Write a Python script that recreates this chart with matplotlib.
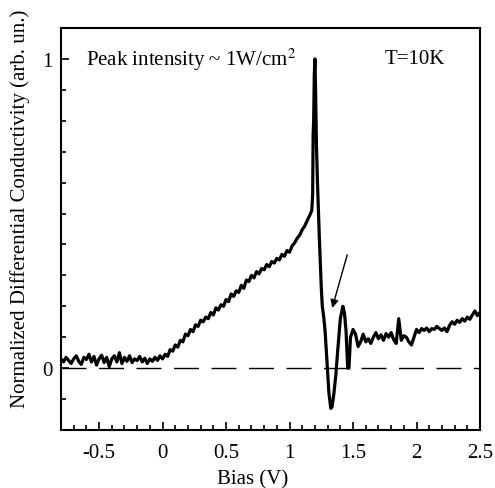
import numpy as np
import matplotlib as mpl
from matplotlib import pyplot as plt

mpl.rcParams['font.family'] = ['Liberation Serif', 'DejaVu Serif']
mpl.rcParams['mathtext.fontset'] = 'stix'
mpl.rcParams['axes.unicode_minus'] = False

# rising part, -0.80 .. 1.16 V in 0.02 V steps
cond_rise = [
    0.030, 0.020, 0.035, 0.025, 0.015, 0.030, 0.040, 0.022, 0.012, 0.035,
    0.028, 0.045, 0.020, 0.038, 0.010, 0.030, 0.042, 0.018, 0.035, 0.005,
    0.030, 0.040, 0.020, 0.050, 0.015, 0.035, 0.022, 0.040, 0.018, 0.030,
    0.025, 0.038, 0.020, 0.032, 0.015, 0.030, 0.022, 0.035, 0.025, 0.040,
    0.030, 0.045, 0.038, 0.060, 0.055, 0.075, 0.068, 0.090, 0.085, 0.110,
    0.105, 0.125, 0.118, 0.140, 0.135, 0.155, 0.150, 0.165, 0.160, 0.180,
    0.172, 0.195, 0.188, 0.205, 0.200, 0.222, 0.215, 0.240, 0.232, 0.250,
    0.245, 0.268, 0.258, 0.285, 0.280, 0.300, 0.292, 0.312, 0.305, 0.322,
    0.318, 0.335, 0.328, 0.345, 0.340, 0.355, 0.350, 0.368, 0.362, 0.380,
    0.375, 0.395, 0.405, 0.420, 0.430, 0.448, 0.460, 0.478, 0.495,
]
bias_rise = np.linspace(-0.80, 1.16, len(cond_rise))

# peak and dip
bias_peak = [1.175, 1.182, 1.186, 1.190, 1.195, 1.200, 1.205, 1.212, 1.220,
             1.235, 1.250, 1.258, 1.268, 1.280, 1.295, 1.310, 1.325, 1.335,
             1.350, 1.365, 1.380, 1.400, 1.420, 1.432, 1.445, 1.458, 1.468,
             1.480]
cond_peak = [0.510, 0.560, 0.760, 0.800, 0.950, 1.000, 0.900, 0.720, 0.600,
             0.420, 0.260, 0.200, 0.170, 0.120, 0.020, -0.080, -0.130, -0.125,
             -0.080, -0.020, 0.060, 0.160, 0.200, 0.180, 0.120, 0.000, 0.000,
             0.100]

# tail, 1.50 .. 2.50 V in 0.02 V steps
cond_tail = [
    0.125, 0.110, 0.070, 0.085, 0.110, 0.085, 0.095, 0.080, 0.100, 0.115,
    0.095, 0.108, 0.090, 0.112, 0.100, 0.115, 0.092, 0.080, 0.160, 0.090,
    0.105, 0.100, 0.085, 0.075, 0.100, 0.125, 0.115, 0.128, 0.122, 0.130,
    0.118, 0.128, 0.125, 0.135, 0.128, 0.122, 0.130, 0.118, 0.138, 0.150,
    0.142, 0.155, 0.148, 0.160, 0.152, 0.165, 0.158, 0.172, 0.185, 0.170,
    0.180,
]
bias_tail = np.linspace(1.50, 2.50, len(cond_tail))

bias = np.concatenate([bias_rise, bias_peak, bias_tail])
cond = np.concatenate([cond_rise, cond_peak, cond_tail])

fig = plt.figure(figsize=(4.95, 4.89), dpi=100)
ax = fig.add_axes([0.1232, 0.1186, 0.8465, 0.8221])

ax.axhline(0, color='black', lw=1.0, dashes=(18, 9))
ax.plot(bias, cond, color='black', lw=2.3)

ax.annotate('', xy=(1.33, 0.186), xytext=(1.46, 0.375),
            arrowprops=dict(arrowstyle='-|>', color='black', lw=1.0,
                            mutation_scale=12))

ax.text(-0.605, 1.0, 'Peak intensity ~ 1W/cm$^2$', fontsize=15, va='center')
ax.text(1.75, 1.0, 'T=10K', fontsize=15, va='center')

ax.set_xlim(-0.8, 2.5)
ax.set_ylim(-0.2, 1.1)
ax.set_xticks([-0.5, 0, 0.5, 1, 1.5, 2, 2.5])
ax.set_xticklabels(['-0.5', '0', '0.5', '1', '1.5', '2', '2.5'])
ax.set_yticks([0, 1])
ax.set_yticklabels(['0', '1'])
ax.xaxis.set_minor_locator(mpl.ticker.MultipleLocator(0.1))
ax.yaxis.set_minor_locator(mpl.ticker.MultipleLocator(0.1))
ax.tick_params(which='both', direction='in', top=False, right=False,
               labelsize=15, width=1.2)
ax.tick_params(which='major', length=6)
ax.tick_params(axis='x', which='major', pad=9)
ax.tick_params(axis='y', which='major', pad=6)
ax.tick_params(which='minor', length=3.5)
for s in ax.spines.values():
    s.set_linewidth(1.5)

ax.set_xlabel('Bias (V)', fontsize=15)
ax.xaxis.set_label_coords(0.458, -0.098)
ax.set_ylabel('Normalized Differential Conductivity (arb. un.)', fontsize=15)
ax.yaxis.set_label_coords(-0.074, 0.552)

fig.savefig('out.png', dpi=100)
